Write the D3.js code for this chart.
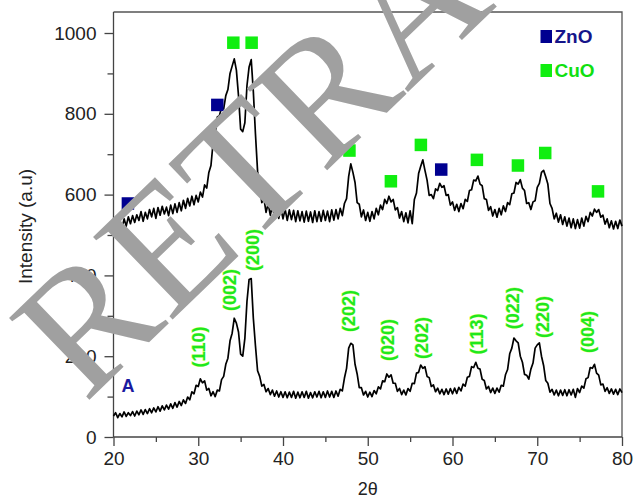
<!DOCTYPE html>
<html>
<head>
<meta charset="utf-8">
<script src="https://cdn.jsdelivr.net/npm/d3@7"></script>
<style>
body { margin: 0; background: #fff; }
svg { display: block; font-family: "Liberation Sans", Arial, sans-serif; }
</style>
</head>
<body>
<div id="chart"></div>
<script>
// XRD patterns, sampled every 0.25 deg from 20 to 80 (2 theta)
var thetaStart = 20, thetaStep = 0.25;

// upper pattern (ZnO/CuO)
var upperCounts = [
    518, 528, 506, 530,  515, 540, 522, 545,  528, 548, 531, 550,  536, 558, 534, 556,
    540, 563, 545, 566,  541, 568, 549, 571,  552, 569, 548, 574,  553, 577, 556, 580,
    560, 586, 566, 591,  572, 596, 575, 598,  582, 606, 594, 624,  616, 655, 672, 728,
    752, 792, 795, 816,  812, 845, 860, 900,  918, 936, 908, 845,  762, 756, 778, 870,
    916, 934, 855, 750,  658, 622, 580, 590,  556, 578, 549, 572,  544, 570, 541, 566,
    540, 564, 536, 562,  538, 561, 533, 560,  535, 558, 532, 559,  534, 557, 531, 560,
    533, 558, 534, 561,  536, 559, 533, 562,  537, 563, 540, 566,  548, 578, 590, 645,
    676, 655, 630, 580,  576, 545, 562, 536,  556, 534, 558, 540,  566, 550, 574, 563,
    588, 578, 596, 582,  588, 562, 568, 542,  558, 533, 555, 530,  560, 528, 588, 604,
    652, 670, 686, 660,  636, 598, 600, 590,  614, 610, 628, 618,  622, 598, 600, 574,
    582, 561, 576, 558,  578, 565, 588, 583,  610, 612, 636, 634,  646, 626, 622, 590,
    588, 561, 570, 547,  563, 544, 566, 550,  572, 558, 580, 575,  602, 604, 630, 626,
    637, 616, 610, 578,  580, 563, 582, 585,  618, 628, 655, 660,  644, 626, 578, 566,
    540, 554, 532, 550,  526, 545, 522, 542,  518, 540, 516, 538,  517, 542, 522, 546,
    533, 556, 547, 564,  556, 563, 544, 549,  527, 540, 518, 535,  515, 534, 516, 537,
    522
];

// lower pattern, labelled "A"
var lowerCounts = [
    52, 60, 48, 58,  50, 62, 51, 60,  53, 63, 52, 64,  55, 67, 56, 68,
    58, 70, 60, 72,  62, 75, 64, 77,  67, 79, 69, 82,  71, 85, 74, 88,
    78, 92, 83, 99,  92, 112, 107, 128,  125, 144, 134, 139,  116, 120, 102, 112,
    100, 116, 114, 142,  150, 180, 195, 238,  257, 294, 282, 260,  205, 200, 244, 336,
    390, 392, 294, 226,  164, 150, 126, 130,  112, 120, 105, 116,  101, 114, 99, 112,
    98, 112, 97, 111,  98, 113, 96, 111,  97, 112, 98, 113,  96, 110, 97, 112,
    99, 113, 97, 112,  98, 114, 99, 113,  98, 114, 101, 118,  114, 146, 170, 220,
    232, 228, 180, 156,  122, 122, 104, 113,  99, 111, 100, 115,  107, 124, 119, 139,
    137, 156, 148, 154,  133, 133, 113, 120,  105, 116, 104, 120,  113, 133, 132, 158,
    160, 178, 170, 174,  150, 147, 125, 129,  112, 121, 107, 118,  105, 119, 106, 120,
    107, 121, 108, 123,  114, 131, 126, 148,  150, 174, 172, 185,  170, 168, 143, 140,
    119, 125, 110, 121,  108, 121, 111, 128,  126, 154, 167, 206,  220, 245, 238, 233,
    200, 185, 155, 153,  143, 168, 183, 220,  228, 233, 200, 177,  140, 133, 111, 118,
    104, 116, 102, 116,  103, 117, 102, 117,  104, 118, 98, 120,  110, 126, 121, 144,
    147, 172, 170, 180,  158, 153, 129, 131,  113, 122, 108, 119,  106, 118, 105, 119,
    110
];

// phase markers above the upper pattern
var markerTheta = [21.7, 32.25, 34.14, 36.3, 47.84, 52.73, 56.27, 58.67, 62.88, 67.72, 70.94, 77.17];
var markerIntensity = [578, 822, 976, 976, 709, 633, 723, 662, 686, 672, 703, 608];
var markerPhase = ["ZnO", "ZnO", "CuO", "CuO", "CuO", "CuO", "CuO", "ZnO", "CuO", "CuO", "CuO", "CuO"];

// Miller indices over the lower pattern (label centre)
var hklText = ["(110)", "(002)", "(200)", "(202)", "(020)", "(202)", "(113)", "(022)", "(220)", "(004)"];
var hklTheta = [30.1, 33.75, 36.4, 47.8, 52.3, 56.4, 62.8, 67.05, 70.6, 76.0];
var hklIntensity = [223, 364, 463, 312, 240, 245, 255, 319, 297, 260];

var phases = ["ZnO", "CuO"];
var xTicks = [20, 30, 40, 50, 60, 70, 80];
var yTicks = [0, 200, 400, 600, 800, 1000];

var margin = { top: 12, right: 13, bottom: 62, left: 113.5 },
    width = 635 - margin.left - margin.right,
    height = 499 - margin.top - margin.bottom;

var svg = d3.select("#chart")
    .append("svg")
    .attr("width", 635)
    .attr("height", 499);

var g = svg.append("g")
    .attr("transform", "translate(" + margin.left + "," + margin.top + ")");

var x = d3.scaleLinear().domain([20, 80]).range([0, width]);
var y = d3.scaleLinear().domain([0, 1052]).range([height, 0]);

var phaseColor = d3.scaleOrdinal().domain(phases).range(["#000090", "#10ee10"]);

// frame (top and right)
g.append("path")
    .attr("d", "M0,0H" + width + "V" + height)
    .attr("fill", "none")
    .attr("stroke", "#555")
    .attr("stroke-width", 1.3);

// axes with minor ticks
var xMinor = g.append("g")
    .attr("transform", "translate(0," + height + ")")
    .call(d3.axisBottom(x).tickValues(d3.range(25, 80, 10)).tickSize(5).tickFormat(""));
var xAxis = g.append("g")
    .attr("transform", "translate(0," + height + ")")
    .call(d3.axisBottom(x).tickValues(xTicks).tickSize(9).tickPadding(6).tickFormat(d3.format("d")));
var yMinor = g.append("g")
    .call(d3.axisLeft(y).tickValues(d3.range(100, 1001, 200)).tickSize(6).tickFormat(""));
var yAxis = g.append("g")
    .call(d3.axisLeft(y).tickValues(yTicks).tickSize(9).tickPadding(8).tickFormat(d3.format("d")));

[xMinor, xAxis, yMinor, yAxis].forEach(function (a) {
    a.select(".domain").attr("stroke", "#444").attr("stroke-width", 1.3);
    a.selectAll(".tick line").attr("stroke", "#444").attr("stroke-width", 1.3);
    a.selectAll("text").style("font-size", "19px").attr("fill", "#222");
});
xMinor.select(".domain").remove();
yMinor.select(".domain").remove();
xAxis.select(".domain").attr("d", "M0,0H" + width);
yAxis.select(".domain").attr("d", "M0,0V" + height);

// axis titles
g.append("text")
    .attr("x", width / 2)
    .attr("y", height + 58)
    .attr("text-anchor", "middle")
    .style("font-size", "18px")
    .attr("fill", "#222")
    .text("2θ");

g.append("text")
    .attr("transform", "rotate(-90)")
    .attr("x", -(height / 2) - 2)
    .attr("y", -82)
    .attr("text-anchor", "middle")
    .style("font-size", "19px")
    .attr("fill", "#222")
    .text("Intensity (a.u)");

// the two patterns
var line = d3.line()
    .x(function (d) { return x(d[0]); })
    .y(function (d) { return y(d[1]); });

function toPoints(counts) {
    return counts.map(function (v, i) { return [thetaStart + i * thetaStep, v]; });
}

[upperCounts, lowerCounts].forEach(function (counts) {
    g.append("path")
        .datum(toPoints(counts))
        .attr("d", line)
        .attr("fill", "none")
        .attr("stroke", "#000")
        .attr("stroke-width", 1.7)
        .attr("stroke-linejoin", "round");
});

// phase markers
var markSize = 12.5;
g.selectAll("rect.marker")
    .data(markerTheta)
    .join("rect")
    .attr("class", "marker")
    .attr("x", function (d) { return x(d) - markSize / 2; })
    .attr("y", function (d, i) { return y(markerIntensity[i]) - markSize / 2; })
    .attr("width", markSize)
    .attr("height", markSize)
    .attr("fill", function (d, i) { return phaseColor(markerPhase[i]); });

// hkl labels
g.selectAll("text.hkl")
    .data(hklText)
    .join("text")
    .attr("class", "hkl")
    .attr("transform", function (d, i) {
        return "translate(" + x(hklTheta[i]) + "," + y(hklIntensity[i]) + ") rotate(-90)";
    })
    .attr("text-anchor", "middle")
    .attr("dy", "0.35em")
    .style("font-size", "18px")
    .style("font-weight", "bold")
    .attr("fill", "#1ee81e")
    .attr("stroke", "#d4ff6a")
    .attr("stroke-width", 0.6)
    .attr("paint-order", "stroke")
    .text(function (d) { return d; });

// sample label
g.append("text")
    .attr("x", x(21.7))
    .attr("y", y(112))
    .attr("text-anchor", "middle")
    .style("font-size", "18px")
    .style("font-weight", "bold")
    .attr("fill", "#1a1aa0")
    .text("A");

// legend
var legend = g.selectAll("g.legend")
    .data(phases)
    .join("g")
    .attr("class", "legend")
    .attr("transform", function (d, i) { return "translate(" + (427) + "," + (18 + i * 34) + ")"; });
legend.append("rect")
    .attr("width", 11.5)
    .attr("height", 13)
    .attr("fill", function (d) { return phaseColor(d); });
legend.append("text")
    .attr("x", 14)
    .attr("y", 13)
    .style("font-size", "19px")
    .style("font-weight", "bold")
    .attr("fill", function (d) { return d === "ZnO" ? "#15158a" : "#10e010"; })
    .text(function (d) { return d; });

// retraction watermark
svg.append("text")
    .attr("transform", "translate(85,404) rotate(-44)")
    .style("font-family", "'Liberation Serif', 'Times New Roman', serif")
    .style("font-size", "175px")
    .attr("fill", "#a0a0a0")
    .text("RETRACTED");
</script>
</body>
</html>
